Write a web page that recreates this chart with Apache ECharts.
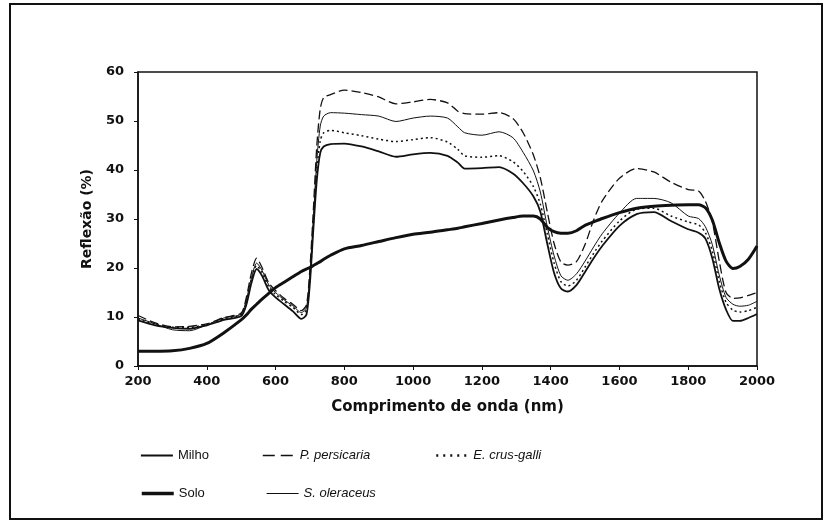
<!DOCTYPE html>
<html>
<head>
<meta charset="utf-8">
<script src="https://cdn.jsdelivr.net/npm/echarts@6/dist/echarts.min.js"></script>
<style>
  html, body { margin: 0; padding: 0; background: #fff; }
  #chart { width: 830px; height: 528px; }
</style>
</head>
<body>
<div id="chart"></div>
<script>
// wavelength (nm) shared by all curves
var wl = [200, 250, 300, 350, 400, 450, 500, 515, 530, 545, 560, 580, 600, 625, 650, 675, 690, 700, 710, 720,
          730, 740, 760, 800, 850, 900, 950, 1000, 1050, 1100, 1130, 1150, 1200, 1250, 1290, 1320, 1350, 1370, 1390, 1410,
          1430, 1450, 1475, 1500, 1525, 1550, 1600, 1650, 1700, 1750, 1800, 1830, 1850, 1870, 1890, 1910, 1930, 1950, 1975, 2000];

var milho = [9.3, 8.3, 7.8, 7.6, 8.3, 9.4, 10.2, 12.5, 17.0, 19.8, 18.5, 15.5, 14.0, 12.6, 11.2, 9.6, 10.5, 17, 28, 38,
             43.5, 44.8, 45.3, 45.4, 44.8, 43.8, 42.7, 43.2, 43.5, 42.9, 41.5, 40.3, 40.4, 40.6, 39.3, 37.3, 34.6, 31.5, 25.0, 19.0,
             15.8, 15.2, 16.5, 19.2, 22.0, 24.5, 28.6, 31.0, 31.4, 29.6, 27.9, 27.2, 26.0, 22.0, 15.8, 11.5, 9.2, 9.2, 9.8, 10.6];

var solo = [3.0, 3.0, 3.1, 3.6, 4.6, 6.8, 9.4, 10.4, 11.6, 12.6, 13.6, 14.8, 16.0, 17.1, 18.2, 19.3, 19.8, 20.1, 20.5, 20.9,
            21.3, 21.8, 22.6, 23.9, 24.6, 25.4, 26.2, 26.9, 27.3, 27.8, 28.1, 28.4, 29.1, 29.8, 30.3, 30.6, 30.6, 30.0, 28.3, 27.4,
            27.1, 27.1, 27.6, 28.7, 29.4, 30.1, 31.3, 32.2, 32.6, 32.8, 32.9, 32.9, 32.3, 29.8, 25.2, 21.4, 19.9, 20.3, 21.8, 24.5];

var persicaria = [10.3, 8.8, 8.0, 8.1, 8.6, 9.9, 10.8, 14, 19, 22.0, 20.2, 17.0, 15.4, 13.8, 12.6, 11.3, 12.5, 20, 32, 45,
                  52.5, 54.8, 55.4, 56.3, 55.8, 54.9, 53.5, 53.9, 54.4, 53.7, 52.0, 51.5, 51.4, 51.7, 50.5, 47.6, 43.0, 38.4, 31.5, 25.0,
                  21.2, 20.6, 21.3, 24.8, 29.8, 33.7, 38.3, 40.3, 39.6, 37.5, 36.0, 35.7, 33.6, 29.5, 21.5, 15.0, 13.8, 13.9, 14.4, 15.0];

var crusgalli = [9.6, 8.5, 7.9, 7.9, 8.5, 9.6, 10.5, 13, 17.5, 20.5, 19.2, 16.2, 14.6, 13.2, 12.0, 10.5, 11.5, 18, 29, 40,
                 46.0, 47.6, 48.1, 47.6, 47.0, 46.3, 45.8, 46.2, 46.6, 45.7, 44.2, 42.9, 42.6, 42.9, 41.7, 39.7, 36.6, 33.0, 27, 21.0,
                 17.2, 16.3, 17.5, 20.2, 23.0, 25.5, 29.6, 32.0, 32.2, 30.6, 29.4, 28.8, 27.2, 23.5, 17.3, 13.0, 11.4, 11.0, 11.3, 12.0];

var oleraceus = [9.8, 8.6, 7.4, 7.2, 8.4, 9.8, 10.6, 13.5, 18, 21.0, 19.6, 16.6, 15.0, 13.5, 12.3, 10.9, 12, 19, 30, 42,
                 49.0, 51.0, 51.7, 51.6, 51.3, 51.0, 49.9, 50.6, 51.0, 50.6, 48.8, 47.6, 47.1, 47.8, 46.6, 43.6, 39.8, 35.5, 28.5, 22.5,
                 18.4, 17.5, 18.8, 21.4, 24.3, 27.0, 31.2, 34.2, 34.2, 33.3, 30.6, 30.1, 28.4, 24.8, 18.6, 14.0, 12.6, 12.2, 12.4, 13.2];

var ink = '#111';
var chart = echarts.init(document.getElementById('chart'));

function pairs(ys) {
    var out = [];
    for (var i = 0; i < wl.length; i++) out.push([wl[i], ys[i]]);
    return out;
}

function mkSeries(name, ys, width, type) {
    return {
        name: name,
        type: 'line',
        data: pairs(ys),
        symbol: 'none',
        smooth: 0.25,
        silent: true,
        lineStyle: { color: ink, width: width, type: type },
        itemStyle: { color: ink }
    };
}

function mkLegend(name, left, top, italic, width, type) {
    return {
        data: [name],
        left: left,
        top: top,
        padding: 0,
        itemWidth: 32,
        itemHeight: 12,
        itemStyle: { opacity: 0 },
        lineStyle: { color: ink, width: width, type: type },
        textStyle: { fontFamily: 'Liberation Sans', fontSize: 13, color: ink, fontStyle: italic ? 'italic' : 'normal' }
    };
}

function plain(v) { return String(v); }

var option = {
    backgroundColor: '#fff',
    animation: false,
    grid: {
        left: 138, top: 72, width: 619, height: 294,
        show: true, borderColor: ink, borderWidth: 1.5
    },
    legend: [
        mkLegend('Milho', 140, 449, false, 1.8, 'solid'),
        mkLegend('P. persicaria', 262, 449, true, 1.5, [12, 6]),
        mkLegend('E. crus-galli', 435, 449, true, 2.5, [2, 5]),
        mkLegend('Solo', 140, 487, false, 3.5, 'solid'),
        mkLegend('S. oleraceus', 266, 487, true, 1.2, 'solid')
    ],
    xAxis: {
        type: 'value',
        min: 200, max: 2000, interval: 200,
        name: 'Comprimento de onda (nm)',
        nameLocation: 'middle',
        nameGap: 34,
        nameTextStyle: { fontFamily: 'DejaVu Sans', fontWeight: 'bold', fontSize: 15, color: ink },
        axisLine: { lineStyle: { color: ink, width: 1.5 } },
        axisTick: { length: 4, lineStyle: { color: ink } },
        axisLabel: { margin: 9, fontFamily: 'DejaVu Sans', fontWeight: 'bold', fontSize: 13, color: ink, formatter: plain },
        splitLine: { show: false }
    },
    yAxis: {
        type: 'value',
        min: 0, max: 60, interval: 10,
        name: 'Reflexão (%)',
        nameLocation: 'middle',
        nameGap: 44,
        nameRotate: 90,
        nameTextStyle: { fontFamily: 'DejaVu Sans', fontWeight: 'bold', fontSize: 14, color: ink },
        axisLine: { show: true, lineStyle: { color: ink, width: 1.5 } },
        axisTick: { show: true, length: 4, lineStyle: { color: ink } },
        axisLabel: { margin: 14, fontFamily: 'DejaVu Sans', fontWeight: 'bold', fontSize: 13, color: ink, formatter: plain },
        splitLine: { show: false }
    },
    graphic: [{
        type: 'rect',
        shape: { x: 10, y: 4, width: 812, height: 515 },
        style: { fill: 'none', stroke: ink, lineWidth: 2 },
        silent: true
    }],
    series: [
        mkSeries('Milho', milho, 1.8, 'solid'),
        mkSeries('P. persicaria', persicaria, 1.3, [9, 4]),
        mkSeries('E. crus-galli', crusgalli, 1.5, [2, 3]),
        mkSeries('Solo', solo, 3, 'solid'),
        mkSeries('S. oleraceus', oleraceus, 1, 'solid')
    ]
};

chart.setOption(option);
</script>
</body>
</html>
